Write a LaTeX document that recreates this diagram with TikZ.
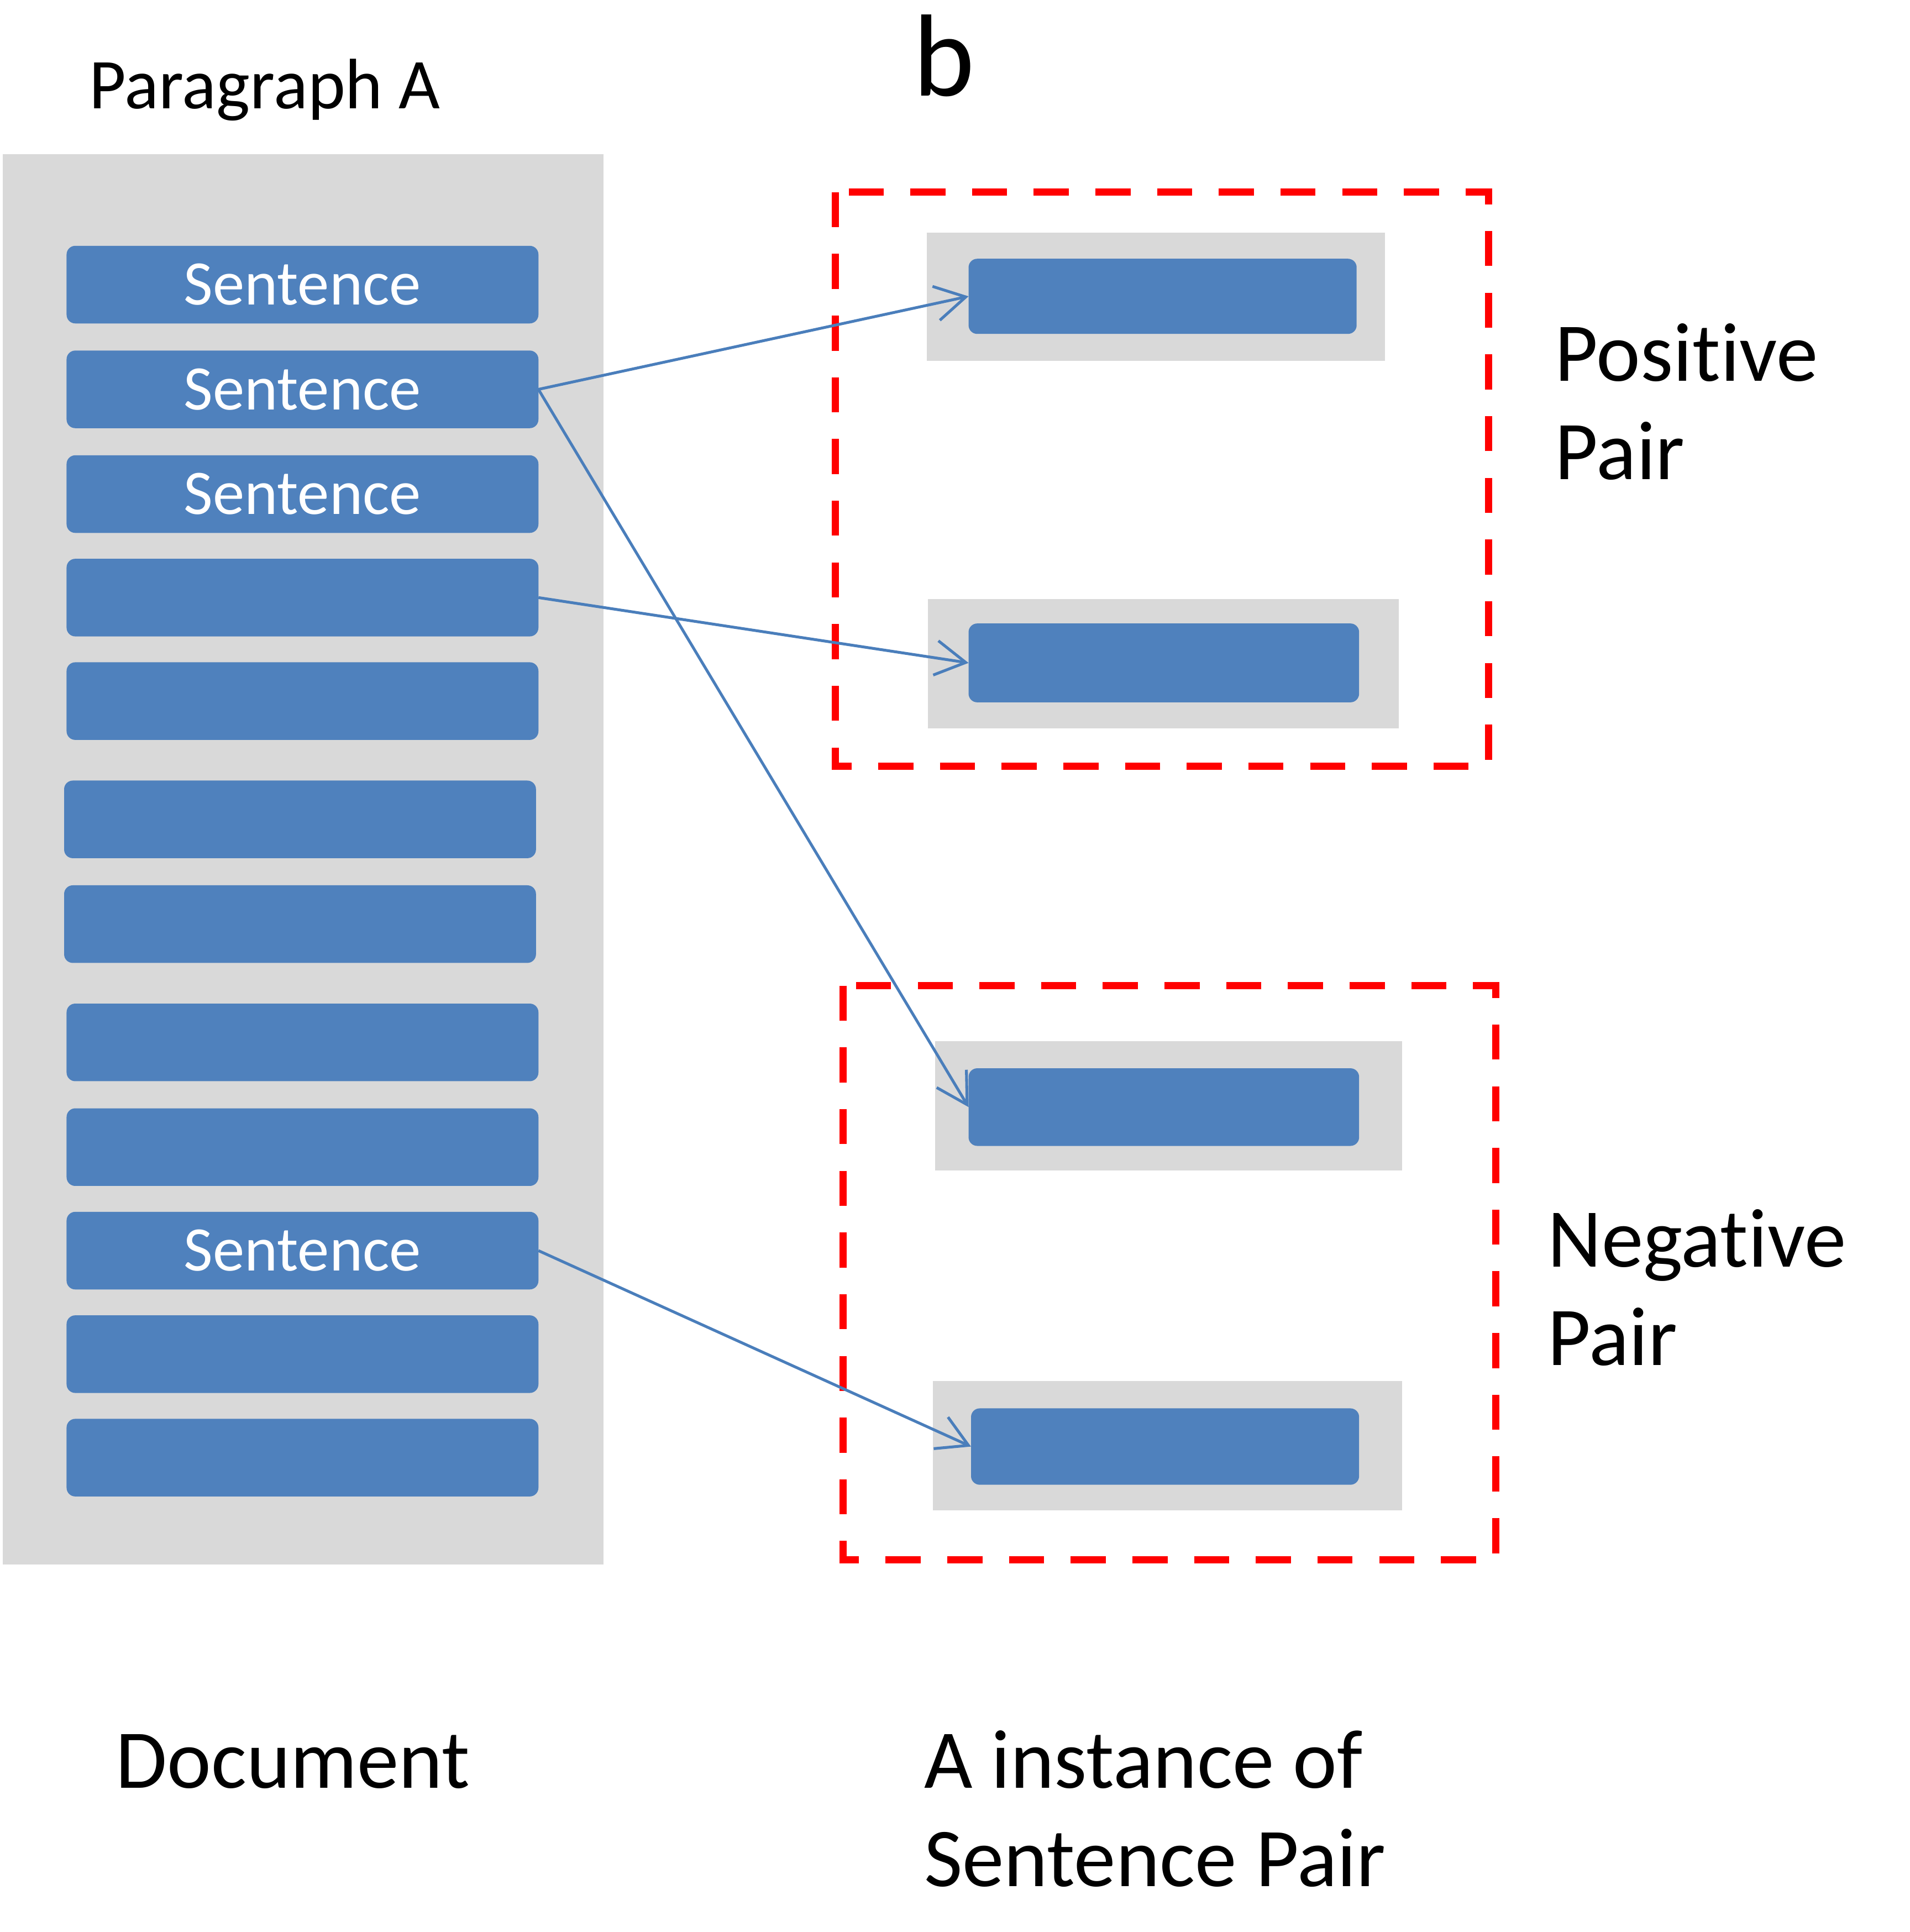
\documentclass[tikz,border=0pt]{standalone}
\usepackage{fontspec}
\setmainfont{Carlito}[Ligatures=NoCommon]
\usetikzlibrary{arrows.meta}
\definecolor{boxblue}{HTML}{4F81BD}
\definecolor{arrblue}{HTML}{4A7EBB}
\definecolor{panelgray}{HTML}{D9D9D9}
\definecolor{pairred}{HTML}{FF0000}
\tikzset{
  sentbox/.style={rectangle, rounded corners=4pt, fill=boxblue, draw=none,
    minimum width=7.66cm, minimum height=1.26cm, inner sep=0pt, outer sep=0pt,
    text=white, font=\fontsize{29.3}{35}\selectfont},
  graybg/.style={rectangle, fill=panelgray, draw=none, inner sep=0pt, outer sep=0pt},
  pairbox/.style={rectangle, rounded corners=4pt, fill=boxblue, draw=none,
    inner sep=0pt, outer sep=0pt},
  dashbox/.style={draw=pairred, line width=3.3pt, dash pattern=on 16.2pt off 12.3pt},
  arr/.style={draw=arrblue, line width=1.3pt, -{Straight Barb[length=14pt,width=16pt,line width=1.3pt]}},
  bigtext/.style={font=\fontsize{38.6}{45.5}\selectfont, inner sep=0pt, outer sep=0pt, anchor=base west, align=left},
}
\begin{document}
\begin{tikzpicture}[x=0.02cm, y=-0.02cm]
\useasboundingbox (0,0) rectangle (1550,1568);
% titles
\node[font=\fontsize{33}{38}\selectfont, inner sep=0pt, anchor=base west] (title) at (72,88) {Paragraph A};
\node[font=\fontsize{54}{60}\selectfont, inner sep=0pt, anchor=base west] (blabel) at (741,78) {b};
% document panel
\node[graybg, minimum width=9.76cm, minimum height=22.9cm] (doc) at (246,697.5) {};
\node[sentbox] (s1) at (245.5,231) {Sentence};
\node[sentbox] (s2) at (245.5,316) {Sentence};
\node[sentbox] (s3) at (245.5,401) {Sentence};
\node[sentbox] (s4) at (245.5,485) {};
\node[sentbox] (s5) at (245.5,569) {};
\node[sentbox] (s6) at (243.5,665) {};
\node[sentbox] (s7) at (243.5,750) {};
\node[sentbox] (s8) at (245.5,846) {};
\node[sentbox] (s9) at (245.5,931) {};
\node[sentbox] (s10) at (245.5,1015) {Sentence};
\node[sentbox] (s11) at (245.5,1099) {};
\node[sentbox] (s12) at (245.5,1183) {};
% positive pair
\node[graybg, minimum width=7.44cm, minimum height=2.08cm] (p1g) at (938,241) {};
\node[pairbox, minimum width=6.3cm, minimum height=1.22cm] (p1) at (943.5,240.5) {};
\node[graybg, minimum width=7.64cm, minimum height=2.1cm] (p2g) at (944,538.5) {};
\node[pairbox, minimum width=6.34cm, minimum height=1.28cm] (p2) at (944.5,538) {};
\draw[dashbox] (678,156) rectangle (1208,622);
% negative pair
\node[graybg, minimum width=7.58cm, minimum height=2.1cm] (n1g) at (948.5,897.5) {};
\node[pairbox, minimum width=6.34cm, minimum height=1.26cm] (n1) at (944.5,898.5) {};
\node[graybg, minimum width=7.62cm, minimum height=2.1cm] (n2g) at (947.5,1173.5) {};
\node[pairbox, minimum width=6.3cm, minimum height=1.24cm] (n2) at (945.5,1174) {};
\draw[dashbox] (684,800) rectangle (1214,1266);
% labels (base anchor = last line baseline)
\node[bigtext] (poslabel) at (1262,389) {Positive\\Pair};
\node[bigtext] (neglabel) at (1256,1108) {Negative\\Pair};
\node[bigtext] (doclabel) at (94,1451) {Document};
\node[bigtext] (inslabel) at (750,1531) {A instance of\\Sentence Pair};
% connectors
\draw[arr] (s2.east) -- (p1.west);
\draw[arr] (s2.east) -- (n1.west);
\draw[arr] (s4.east) -- (p2.west);
\draw[arr] (s10.east) -- (n2.west);
\end{tikzpicture}
\end{document}
